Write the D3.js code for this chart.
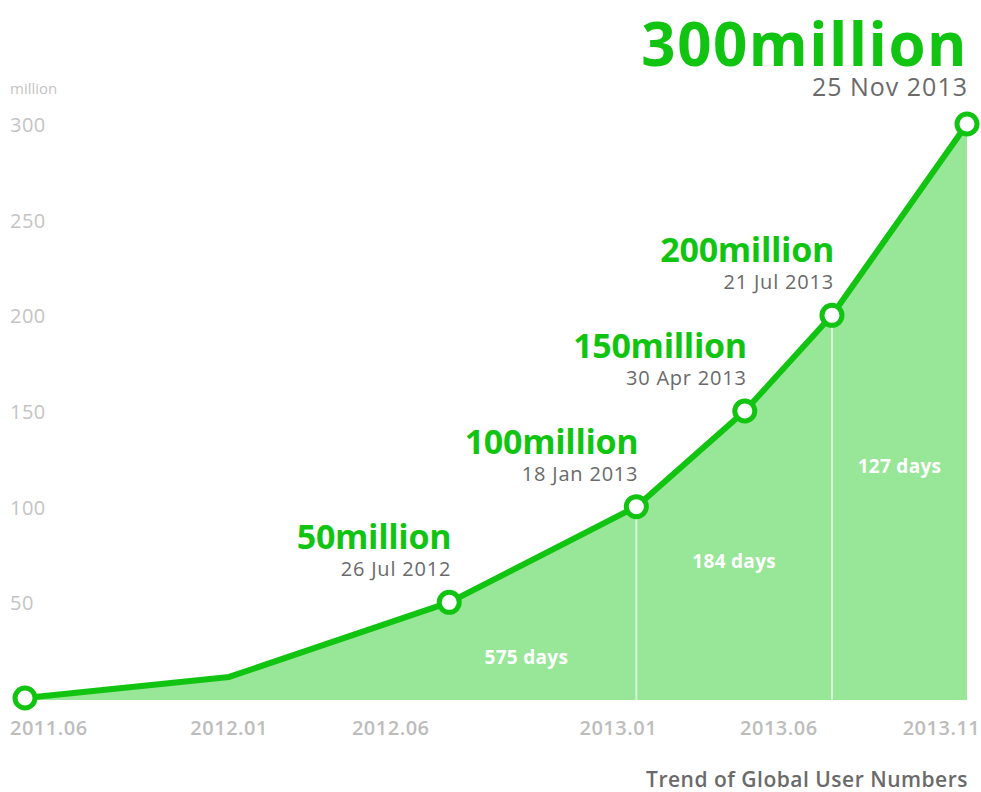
<!DOCTYPE html>
<html>
<head>
<meta charset="utf-8">
<script src="https://cdn.jsdelivr.net/npm/d3@7"></script>
<style>
  body { margin: 0; background: #fff; }
  svg { display: block; font-family: "Open Sans", "DejaVu Sans", sans-serif; }
</style>
</head>
<body>
<div id="chart"></div>
<script>
// user numbers (million) at each date
const dates = ["2011-06-23", "2012-01-01", "2012-07-26", "2013-01-18", "2013-04-30", "2013-07-21", "2013-11-25"];
const users = [0, 11, 50, 100, 150, 200, 300];
const dateLabels = ["", "", "26 Jul 2012", "18 Jan 2013", "30 Apr 2013", "21 Jul 2013", "25 Nov 2013"];
const hasMarker = [true, false, true, true, true, true, true];

const yTicks = [50, 100, 150, 200, 250, 300];
const xTicks = ["2011-06-01", "2012-01-01", "2012-06-01", "2013-01-01", "2013-06-01", "2013-11-01"];
const xTickLabels = ["2011.06", "2012.01", "2012.06", "2013.01", "2013.06", "2013.11"];

// intervals between 0 -> 100 -> 200 -> 300 million
const spanFrom = ["2011-06-23", "2013-01-18", "2013-07-21"];
const spanTo = ["2013-01-18", "2013-07-21", "2013-11-25"];
const spanStartValue = [0, 100, 200];
const spanLabels = ["575 days", "184 days", "127 days"];

const cfg = {
  width: 981,
  height: 792,
  margin: { left: 25, right: 14, top: 124, bottom: 94 }
};
const green = "#12c412";
const fill = "#98e698";

const parse = d3.timeParse("%Y-%m-%d");
const data = dates.map((d, i) => ({
  date: parse(d), value: users[i], label: dateLabels[i], marker: hasMarker[i]
}));

const x = d3.scaleTime()
  .domain(d3.extent(data, d => d.date))
  .range([cfg.margin.left, cfg.width - cfg.margin.right]);
const y = d3.scaleLinear()
  .domain([0, 300])
  .range([cfg.height - cfg.margin.bottom, cfg.margin.top]);

const svg = d3.select("#chart")
  .append("svg")
  .attr("width", cfg.width)
  .attr("height", cfg.height)
  .attr("viewBox", [0, 0, cfg.width, cfg.height]);

// area under the curve
const base = y(0) + 2;
svg.append("path")
  .datum(data)
  .attr("d", d3.area().x(d => x(d.date)).y0(base).y1(d => y(d.value)))
  .style("fill", fill);

// separators at 100M and 200M
svg.append("g")
  .selectAll("line")
  .data(spanFrom.slice(1))
  .join("line")
  .attr("x1", d => x(parse(d)))
  .attr("x2", d => x(parse(d)))
  .attr("y1", (d, i) => y(spanStartValue[i + 1]) + 12)
  .attr("y2", base)
  .style("stroke", "#d8f5d8")
  .style("stroke-width", 2);

// day counts
svg.append("g")
  .selectAll("text")
  .data(spanLabels)
  .join("text")
  .attr("x", (d, i) => {
    const a = x(parse(spanFrom[i])), b = x(parse(spanTo[i]));
    return Math.max((a + b) / 2, b - 110);
  })
  .attr("y", (d, i) => (y(spanStartValue[i]) + y(0)) / 2 - 34)
  .attr("text-anchor", "middle")
  .style("fill", "#fff")
  .style("font-size", "19px")
  .style("font-weight", 700)
  .style("letter-spacing", "0.3px")
  .text(d => d);

// y axis labels
svg.append("text")
  .attr("x", 10).attr("y", 94)
  .style("fill", "#c4c4c4").style("font-size", "15px")
  .text("million");
svg.append("g")
  .selectAll("text")
  .data(yTicks)
  .join("text")
  .attr("x", 10)
  .attr("y", d => y(d) + 8)
  .style("fill", "#c4c4c4")
  .style("font-size", "20px")
  .style("letter-spacing", "0.5px")
  .text(d => d);

// x axis labels
svg.append("g")
  .selectAll("text")
  .data(xTicks)
  .join("text")
  .attr("x", (d, i) => i === 0 ? 10 : x(parse(d)))
  .attr("y", 735)
  .attr("text-anchor", (d, i) => i === 0 ? "start" : "middle")
  .style("fill", "#bdbdbd")
  .style("font-size", "20px")
  .style("font-weight", 600)
  .style("letter-spacing", "0.5px")
  .text((d, i) => xTickLabels[i]);

// line
svg.append("path")
  .datum(data)
  .attr("d", d3.line().x(d => x(d.date)).y(d => y(d.value)))
  .style("fill", "none")
  .style("stroke", green)
  .style("stroke-width", 6)
  .style("stroke-linejoin", "round");

// markers
svg.append("g")
  .selectAll("circle")
  .data(data.filter(d => d.marker))
  .join("circle")
  .attr("cx", d => x(d.date))
  .attr("cy", d => y(d.value))
  .attr("r", 10)
  .style("fill", "#fff")
  .style("stroke", green)
  .style("stroke-width", 5);

// milestone labels
const ms = data.filter(d => d.label !== "");
const last = ms[ms.length - 1];
const lbl = svg.append("g")
  .selectAll("g")
  .data(ms)
  .join("g")
  .attr("transform", d => d === last
    ? `translate(${x(d.date) + 1},0)`
    : `translate(${x(d.date) + 2},${y(d.value)})`);

lbl.append("text")
  .attr("y", d => d === last ? 66 : -53)
  .attr("text-anchor", "end")
  .style("fill", green)
  .style("font-weight", 700)
  .style("font-size", d => d === last ? "60px" : "34px")
  .style("letter-spacing", d => d === last ? "1.5px" : "-0.3px")
  .text(d => d.value + "million");

lbl.append("text")
  .attr("y", d => d === last ? 96 : -26)
  .attr("text-anchor", "end")
  .style("fill", "#6a6a6a")
  .style("font-size", d => d === last ? "25px" : "20px")
  .style("letter-spacing", d => d === last ? "1px" : "0.8px")
  .text(d => d.label);

// caption
svg.append("text")
  .attr("x", 968).attr("y", 787)
  .attr("text-anchor", "end")
  .style("fill", "#6a6a6a")
  .style("font-size", "21px")
  .style("font-weight", 600)
  .style("letter-spacing", "0.5px")
  .text("Trend of Global User Numbers");
</script>
</body>
</html>
